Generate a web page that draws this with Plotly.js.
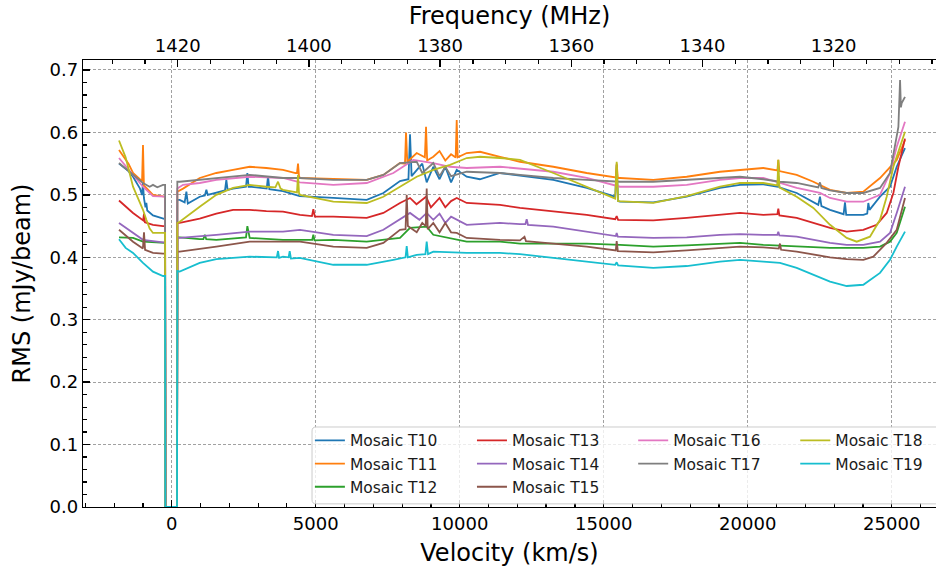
<!DOCTYPE html>
<html>
<head>
<meta charset="utf-8">
<script src="https://cdn.plot.ly/plotly-3.0.1.min.js"></script>
<style>html,body{margin:0;padding:0;background:#fff;}#chart{width:936px;height:569px;}</style>
</head>
<body>
<div id="chart"></div>
<script>
// ---- data (velocity in km/s, RMS in mJy/beam) ----
const seriesNames = ["Mosaic T10","Mosaic T11","Mosaic T12","Mosaic T13","Mosaic T14","Mosaic T15","Mosaic T16","Mosaic T17","Mosaic T18","Mosaic T19"];
const seriesColors = ["#1f77b4","#ff7f0e","#2ca02c","#d62728","#9467bd","#8c564b","#e377c2","#7f7f7f","#bcbd22","#17becf"];

const velT10 = [-1830,-1500,-1343,-1100,-1030,-997,-965,-910,-880,-850,-650,-302,-230,-220,185,195,278,450,510,560,972,1150,1204,1250,1550,1850,1897,1940,2130,2580,2627,2670,2708,3287,3300,3345,3390,3865,4444,5611,6771,7350,7927,8220,8275,8330,8507,8700,8854,9083,9300,9500,9700,9896,10243,10700,11399,12094,13250,14410,15336,15400,15451,15500,15567,16722,17882,19038,19733,20542,21030,21063,21100,21701,22450,22510,22560,22858,23330,23378,23420,23785,24014,24150,24188,24230,24594,24941,25174,25462];
const rmsT10 = [0.550,0.538,0.529,0.510,0.500,0.519,0.495,0.480,0.487,0.475,0.467,0.461,0.461,0,0,0.492,0.492,0.488,0.505,0.486,0.497,0.499,0.508,0.500,0.503,0.507,0.524,0.508,0.510,0.513,0.535,0.513,0.513,0.510,0.510,0.530,0.509,0.506,0.498,0.495,0.492,0.503,0.522,0.525,0.597,0.530,0.540,0.550,0.520,0.545,0.525,0.545,0.520,0.540,0.529,0.525,0.535,0.531,0.524,0.511,0.497,0.497,0.548,0.490,0.489,0.488,0.497,0.511,0.516,0.517,0.513,0.530,0.512,0.503,0.484,0.497,0.482,0.476,0.469,0.488,0.468,0.468,0.468,0.470,0.487,0.476,0.497,0.513,0.545,0.575];

const velT11 = [-1830,-1500,-1343,-1030,-997,-965,-650,-302,-230,-220,185,195,394,972,1550,2130,2708,3287,3865,4300,4350,4386,4420,4455,5611,6771,7350,7927,8100,8136,8180,8507,8790,8831,8870,9083,9300,9500,9700,9860,9896,9930,10243,10706,11399,12094,13250,14410,15420,15451,15490,15567,16722,17882,19038,19733,20542,21030,21063,21100,21701,22280,22858,23437,24014,24594,24941,25174,25347,25462];
const rmsT11 = [0.572,0.550,0.535,0.522,0.580,0.515,0.500,0.497,0.497,0,0,0.505,0.510,0.527,0.535,0.540,0.545,0.543,0.540,0.535,0.535,0.550,0.530,0.527,0.525,0.524,0.532,0.551,0.550,0.600,0.553,0.567,0.560,0.609,0.555,0.561,0.570,0.555,0.565,0.560,0.620,0.560,0.567,0.569,0.561,0.553,0.545,0.535,0.528,0.550,0.527,0.527,0.524,0.529,0.537,0.540,0.543,0.539,0.556,0.538,0.532,0.521,0.508,0.503,0.505,0.527,0.545,0.556,0.575,0.588];

const velT12 = [-1830,-1343,-997,-302,-230,-220,185,195,278,972,1100,1150,1200,1550,2130,2580,2627,2680,2708,3865,4455,4880,4918,4960,5611,6771,7927,8275,8854,9083,10243,11399,12094,13250,14410,15567,16722,17882,19038,19733,20542,21701,22858,24014,24594,24941,25174,25462];
const rmsT12 = [0.432,0.431,0.425,0.423,0.423,0,0,0.432,0.432,0.429,0.429,0.436,0.429,0.428,0.430,0.432,0.450,0.433,0.431,0.428,0.428,0.428,0.436,0.427,0.428,0.425,0.431,0.447,0.449,0.436,0.425,0.425,0.422,0.422,0.422,0.420,0.417,0.419,0.422,0.423,0.420,0.417,0.415,0.415,0.417,0.425,0.439,0.481];

const velT13 = [-1830,-1343,-990,-962,-930,-650,-302,-230,-220,185,195,278,972,1550,2130,2708,3287,3865,4455,4870,4918,4970,5611,6771,7350,7927,8275,8500,8831,9000,9300,9500,9700,9896,10243,11399,12094,13250,14410,15400,15451,15500,16722,17882,19038,19733,20542,21030,21063,21100,21701,22280,22858,23437,24014,24477,24826,25058,25232,25462];
const rmsT13 = [0.491,0.471,0.459,0.470,0.456,0.452,0.450,0.450,0,0,0.455,0.455,0.462,0.470,0.476,0.476,0.474,0.473,0.468,0.466,0.477,0.465,0.465,0.463,0.471,0.487,0.495,0.485,0.497,0.480,0.495,0.480,0.490,0.495,0.487,0.484,0.479,0.473,0.468,0.461,0.466,0.460,0.459,0.463,0.468,0.471,0.468,0.469,0.478,0.467,0.463,0.455,0.447,0.441,0.444,0.452,0.471,0.503,0.545,0.590];

const velT14 = [-1830,-1343,-997,-302,-230,-220,185,195,278,1550,2708,3865,4455,5611,6771,7350,7927,8275,8600,8854,9083,9300,9500,9700,10243,11399,12094,12280,12326,12370,13250,14410,15420,15451,15490,16722,17882,19038,19733,20542,21030,21063,21100,21701,22280,22858,23437,24014,24594,24941,25174,25462];
const rmsT14 = [0.455,0.439,0.428,0.424,0.424,0,0,0.431,0.431,0.436,0.441,0.441,0.444,0.436,0.434,0.444,0.460,0.471,0.460,0.471,0.460,0.470,0.455,0.465,0.452,0.455,0.453,0.453,0.461,0.452,0.449,0.441,0.434,0.439,0.433,0.431,0.432,0.436,0.437,0.436,0.436,0.441,0.435,0.433,0.428,0.423,0.420,0.420,0.425,0.439,0.471,0.513];

const velT15 = [-1830,-1343,-1000,-962,-925,-650,-302,-230,-220,185,195,278,1550,2708,3865,4455,5611,6771,7350,7927,8120,8160,8200,8507,8700,8820,8854,8890,9083,9300,9500,9700,9896,10243,11399,12094,12250,12300,13250,14410,15420,15451,15490,16722,17882,19038,19733,20542,21080,21120,21160,21701,22280,22858,23437,24014,24361,24826,25174,25462];
const rmsT15 = [0.444,0.425,0.414,0.440,0.412,0.407,0.406,0.406,0,0,0.409,0.409,0.417,0.425,0.425,0.425,0.417,0.415,0.423,0.444,0.445,0.500,0.450,0.440,0.455,0.450,0.510,0.445,0.455,0.440,0.455,0.440,0.439,0.431,0.428,0.427,0.433,0.426,0.422,0.417,0.411,0.426,0.410,0.408,0.411,0.415,0.417,0.416,0.414,0.422,0.412,0.409,0.404,0.400,0.397,0.396,0.401,0.423,0.444,0.495];

const velT16 = [-1830,-1343,-997,-650,-302,-230,-220,185,195,394,972,1550,2708,3865,4455,5611,6771,7697,8391,9083,9664,10243,11399,12094,13250,14410,15567,16722,17882,19038,19733,20542,21120,21701,22510,22858,23437,24014,24594,24941,25174,25347,25462];
const rmsT16 = [0.559,0.532,0.513,0.498,0.497,0.497,0,0,0.510,0.516,0.519,0.524,0.529,0.527,0.520,0.516,0.519,0.535,0.556,0.551,0.545,0.543,0.545,0.542,0.537,0.527,0.513,0.513,0.516,0.524,0.527,0.527,0.519,0.511,0.503,0.495,0.489,0.489,0.500,0.535,0.577,0.601,0.617];

const velT17 = [-1830,-1343,-997,-765,-650,-500,-302,-230,-220,185,195,278,972,1550,2708,3865,4455,5611,6771,7350,7927,8507,8700,9083,9300,9500,9700,10243,11399,12094,13250,14410,15567,16722,17882,19038,19733,20542,21120,21701,22450,22510,22560,22858,23437,24014,24594,24941,25116,25232,25290,25320,25347,25405,25462];
const rmsT17 = [0.551,0.532,0.519,0.513,0.516,0.512,0.516,0.516,0,0,0.521,0.521,0.524,0.527,0.532,0.527,0.527,0.524,0.524,0.532,0.551,0.553,0.535,0.551,0.530,0.545,0.530,0.537,0.535,0.532,0.527,0.524,0.521,0.521,0.524,0.527,0.529,0.525,0.521,0.519,0.512,0.520,0.511,0.507,0.503,0.503,0.511,0.535,0.583,0.609,0.684,0.640,0.647,0.652,0.657];

const velT18 = [-1830,-1600,-1343,-997,-880,-765,-650,-302,-230,-220,185,195,278,972,1550,2130,2708,3287,3600,3692,3780,3865,4350,4386,4420,4455,5611,6771,7350,7927,8507,9083,9664,10243,10706,11399,12094,13250,14410,15336,15400,15451,15500,16722,17882,19038,19733,20542,21030,21063,21100,21701,22280,22858,23437,23785,24245,24594,24826,25058,25290,25462];
const rmsT18 = [0.587,0.560,0.513,0.476,0.460,0.446,0.439,0.439,0.439,0,0,0.455,0.457,0.481,0.500,0.511,0.516,0.513,0.512,0.521,0.510,0.508,0.504,0.532,0.503,0.500,0.489,0.487,0.497,0.513,0.529,0.540,0.548,0.559,0.561,0.559,0.556,0.535,0.513,0.496,0.494,0.553,0.490,0.487,0.498,0.513,0.519,0.519,0.515,0.556,0.512,0.497,0.479,0.452,0.431,0.425,0.433,0.460,0.497,0.545,0.577,0.601];

const velT19 = [-1830,-1600,-1343,-997,-650,-302,-230,-220,185,195,278,972,1550,2708,3650,3692,3730,3865,4060,4097,4140,4444,5611,6771,7697,8120,8160,8200,8507,8810,8854,8900,9083,10243,11399,12094,13250,14410,15400,15451,15500,16722,17882,19038,19733,20542,21120,21701,22280,22858,23437,24014,24594,24941,25174,25462];
const rmsT19 = [0.429,0.415,0.407,0.391,0.377,0.370,0.370,0,0,0.378,0.377,0.391,0.397,0.401,0.400,0.410,0.399,0.401,0.400,0.410,0.398,0.399,0.388,0.388,0.396,0.400,0.418,0.400,0.404,0.405,0.425,0.405,0.409,0.407,0.407,0.405,0.399,0.393,0.388,0.392,0.387,0.383,0.386,0.393,0.396,0.393,0.391,0.383,0.372,0.361,0.354,0.356,0.375,0.396,0.417,0.441];

const velocities = [velT10,velT11,velT12,velT13,velT14,velT15,velT16,velT17,velT18,velT19];
const rmsValues  = [rmsT10,rmsT11,rmsT12,rmsT13,rmsT14,rmsT15,rmsT16,rmsT17,rmsT18,rmsT19];
const legendOf   = ["legend","legend","legend","legend2","legend2","legend2","legend3","legend3","legend4","legend4"];

const velTicks  = [0,5000,10000,15000,20000,25000];
const rmsTicks  = [0,0.1,0.2,0.3,0.4,0.5,0.6,0.7];
const freqTicks = [1320,1340,1360,1380,1400,1420];

// ---- traces ----
const traces = seriesNames.map((n,i)=>({
  x: velocities[i], y: rmsValues[i], type:'scatter', mode:'lines', name:n,
  line:{color:seriesColors[i], width:1.8}, legend: legendOf[i], xaxis:'x', yaxis:'y'
}));
// empty carrier so the top (frequency) axis is drawn; it holds no visible marks
traces.push({x: freqTicks, y: freqTicks.map(()=>null), type:'scatter', mode:'lines',
  xaxis:'x2', yaxis:'y', showlegend:false, hoverinfo:'skip', line:{width:0}});

const F = 'DejaVu Sans, Verdana, sans-serif';
const legBase = {bgcolor:'rgba(0,0,0,0)', borderwidth:0, font:{family:F,size:15.5,color:'#1a1a1a'},
  xanchor:'left', yanchor:'top', y:0.186, tracegroupgap:0, itemwidth:30};

const commonAx = {showline:true, linecolor:'#000', linewidth:1.3, ticks:'inside', ticklen:7, tickwidth:1.3,
  tickcolor:'#000', zeroline:false, tickfont:{family:F,size:18,color:'#000'}};

const layout = {
  width:936, height:569,
  margin:{l:83, r:0, t:60, b:62},
  paper_bgcolor:'#fff', plot_bgcolor:'#fff',
  showlegend:true,
  xaxis: Object.assign({}, commonAx, {
    range:[-3080, 26538], tickvals: velTicks, ticktext: velTicks.map(String),
    showgrid:true, gridcolor:'#8a8a8a', gridwidth:0.8, griddash:'3px,2px',
    minor:{ticks:'inside', ticklen:4, tickwidth:1.2, tickcolor:'#000', dtick:1000, tick0:0, showgrid:false},
    title:{text:'Velocity (km/s)', font:{family:F,size:24,color:'#000'}, standoff:11}
  }),
  xaxis2: Object.assign({}, commonAx, {
    overlaying:'x', side:'top', anchor:'y',
    range:[1434.44, 1304.4], tickvals: freqTicks, ticktext: freqTicks.map(String),
    showgrid:false,
    minor:{ticks:'inside', ticklen:4, tickwidth:1.2, tickcolor:'#000', dtick:5, tick0:1300, showgrid:false},
    title:{text:'Frequency (MHz)', font:{family:F,size:24,color:'#000'}, standoff:3}
  }),
  yaxis: Object.assign({}, commonAx, {
    range:[0, 0.716], tickvals: rmsTicks, ticktext: rmsTicks.map(v=>v.toFixed(1)),
    showgrid:true, gridcolor:'#8a8a8a', gridwidth:0.8, griddash:'3px,2px',
    minor:{ticks:'inside', ticklen:4, tickwidth:1.2, tickcolor:'#000', dtick:0.02, tick0:0, showgrid:false},
    title:{text:'RMS (mJy/beam)', font:{family:F,size:24,color:'#000'}, standoff:12}
  }),
  legend:  Object.assign({}, legBase, {x:0.266}),
  legend2: Object.assign({}, legBase, {x:0.456}),
  legend3: Object.assign({}, legBase, {x:0.645}),
  legend4: Object.assign({}, legBase, {x:0.835}),
  shapes:[{
    type:'path', xref:'paper', yref:'paper', layer:'above',
    path:'M 0.2685 0.0160 L 0.2685 0.1700 Q 0.2685 0.1790 0.2732 0.1790 L 1.02 0.1790 L 1.02 0.0070 L 0.2732 0.0070 Q 0.2685 0.0070 0.2685 0.0160 Z',
    fillcolor:'rgba(255,255,255,0.8)', line:{color:'#cccccc', width:1}
  }]
};

Plotly.newPlot('chart', traces, layout, {staticPlot:true, displayModeBar:false});
</script>
</body>
</html>
